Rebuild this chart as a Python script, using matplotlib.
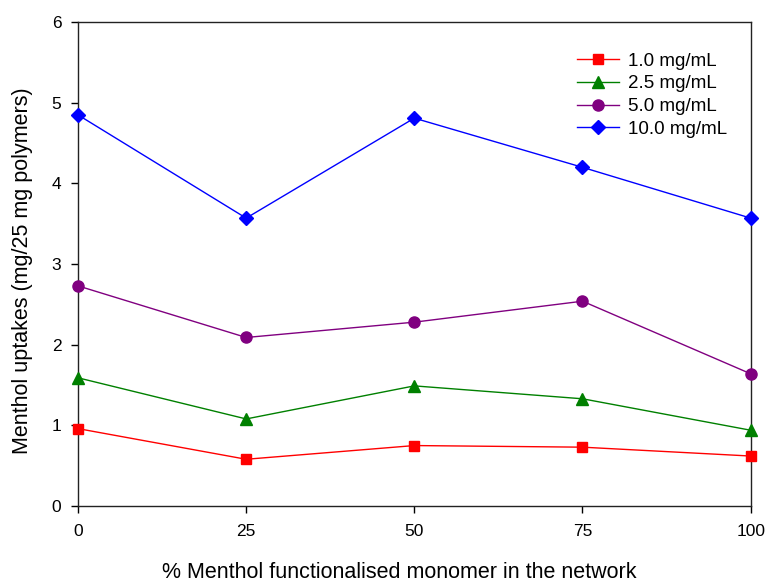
import matplotlib
matplotlib.use("Agg")
import matplotlib.pyplot as plt

plt.rcParams['font.family'] = ['Liberation Sans', 'DejaVu Sans']

x_pct = [0, 25, 50, 75, 100]
uptake_1_0 = [0.96, 0.58, 0.75, 0.73, 0.62]
uptake_2_5 = [1.59, 1.08, 1.49, 1.33, 0.94]
uptake_5_0 = [2.73, 2.09, 2.28, 2.54, 1.64]
uptake_10_0 = [4.85, 3.57, 4.81, 4.20, 3.57]

series_labels = ["1.0 mg/mL", "2.5 mg/mL", "5.0 mg/mL", "10.0 mg/mL"]
x_ticks = [0, 25, 50, 75, 100]
y_ticks = [0, 1, 2, 3, 4, 5, 6]

fig = plt.figure(figsize=(7.67, 5.83), dpi=100)
ax = fig.add_axes([0.1017, 0.132, 0.877, 0.830])

styles = [
    (uptake_1_0, "#ff0000", "s", 7.5),
    (uptake_2_5, "#008000", "^", 8),
    (uptake_5_0, "#800080", "o", 8),
    (uptake_10_0, "#0000ff", "D", 7),
]
for (vals, col, mk, ms), lab in zip(styles, series_labels):
    ax.plot(x_pct, vals, color=col, marker=mk, markersize=ms, linewidth=1,
            markeredgecolor=col, markerfacecolor=col, label=lab, clip_on=False,
            zorder=3)

ax.set_xlim(0, 100)
ax.set_ylim(0, 6)
ax.set_xticks(x_ticks)
ax.set_yticks(y_ticks)
ax.tick_params(direction='out', length=5, width=1, labelsize=12.5)
ax.tick_params(axis='y', pad=7)
ax.tick_params(axis='x', pad=8)
for s in ax.spines.values():
    s.set_linewidth(1)
    s.set_color("#222222")

ax.set_xlabel("% Menthol functionalised monomer in the network", fontsize=15.5)
ax.set_ylabel("Menthol uptakes (mg/25 mg polymers)", fontsize=15.5)
ax.xaxis.set_label_coords(0.478, -0.115)
ax.yaxis.set_label_coords(-0.067, 0.486)

ax.legend(loc='upper right', bbox_to_anchor=(0.99, 0.972), frameon=False,
          fontsize=13.5, handlelength=2.2, labelspacing=0.3, handletextpad=0.5)

fig.savefig("out.png", dpi=100)
